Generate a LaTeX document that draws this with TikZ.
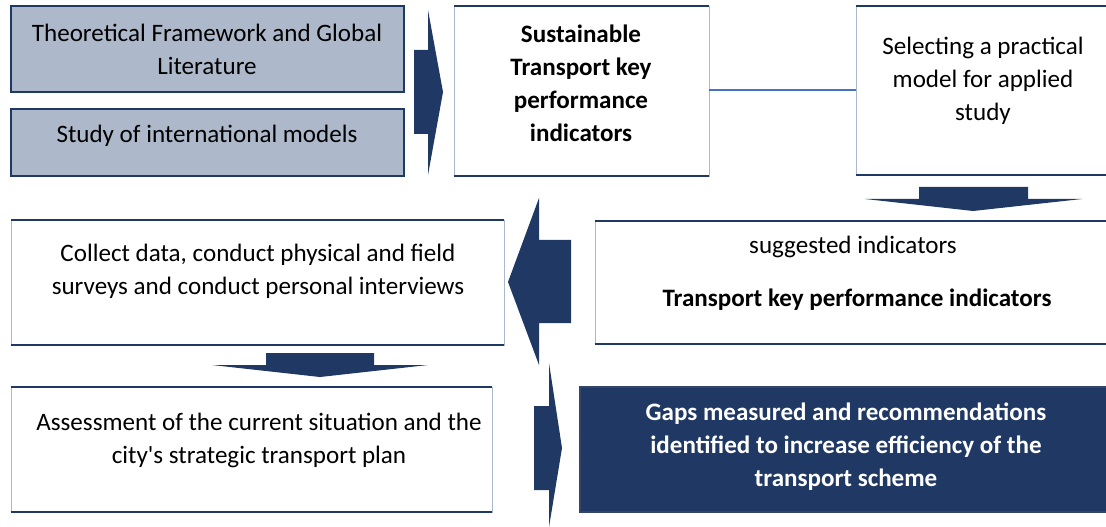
\documentclass[tikz,border=0pt]{standalone}
\usepackage{fontspec}
\setmainfont{Carlito}[Ligatures=TeXOff]
\usetikzlibrary{fit}

\definecolor{navy}{HTML}{203864}
\definecolor{slate}{HTML}{ADB9CA}
\definecolor{sideline}{HTML}{A9B8CC}
\definecolor{linkblue}{HTML}{4472C4}

\tikzset{
  frame/.style={inner sep=0pt, draw=sideline, line width=0.7pt, fill=white},
  greybox/.style={inner sep=0pt, draw=navy, line width=1.2pt, fill=slate},
  darkbox/.style={inner sep=0pt, draw=navy!80!gray, line width=0.8pt, fill=navy},
  rim/.style={draw=navy, line width=1.5pt},
  txt/.style={align=center, inner sep=0pt, text=black,
    font=\fontsize{18.8}{24.75}\selectfont},
  boldtxt/.style={txt, font=\fontsize{18.8}{24.75}\selectfont\bfseries},
  blockarrow/.style={fill=navy, draw=none},
  link/.style={draw=linkblue, line width=0.9pt}
}

\newcommand{\rims}[1]{%
  \draw[rim] (#1.north west) -- (#1.north east);
  \draw[rim] (#1.south west) -- (#1.south east);}

\begin{document}
\begin{tikzpicture}[x=0.75pt, y=-0.75pt]
  \useasboundingbox (0,0) rectangle (1106,527);
  \clip (0,0) rectangle (1106,527);
  \fill[white] (0,0) rectangle (1106,527);

  % boxes
  \node[greybox, fit={(11,6) (404,92)}] (theory) {};
  \node[greybox, fit={(11,109) (404,176)}] (models) {};
  \node[frame, fit={(454,6) (709,176)}] (kpi) {};
  \node[frame, fit={(856,6) (1114,175)}] (select) {};
  \node[frame, fit={(595,221) (1114,344)}] (suggest) {};
  \node[frame, fit={(11,220) (504,345)}] (collect) {};
  \node[frame, fit={(11,387) (492,512)}] (assess) {};
  \node[darkbox, fit={(580,387) (1114,512)}] (gaps) {};
  \rims{kpi}
  \rims{select}
  \rims{suggest}
  \rims{collect}
  \rims{assess}

  % texts
  \node[txt] (ttheory) at (207,49) {Theoretical Framework and Global\\Literature};
  \node[txt] (tmodels) at (207,136) {Study of international models};
  \node[boldtxt] (tkpi) at (581,83) {Sustainable\\Transport key\\performance\\indicators};
  \node[txt] (tselect) at (983,81) {Selecting a practical\\model for applied\\study};
  \node[txt] (tsuggest) at (853,247) {suggested indicators};
  \node[boldtxt] (ttkpi) at (857,300) {Transport key performance indicators};
  \node[txt] (tcollect) at (258,271) {Collect data, conduct physical and field\\surveys and conduct personal interviews};
  \node[txt] (tassess) at (259,440) {Assessment of the current situation and the\\city's strategic transport plan};
  \node[boldtxt, text=white] (tgaps) at (846,447) {Gaps measured and recommendations\\identified to increase efficiency of the\\transport scheme};

  % thin link between the indicator box and the model selection box
  \draw[link] (kpi.east |- 0,90) -- (select.west |- 0,90);

  % block arrows
  \path[blockarrow] (414,50) -- (428,50) -- (428,10) -- (443,92) -- (428,175) -- (428,134) -- (414,134) -- cycle;
  \path[blockarrow] (919,187) -- (1028,187) -- (1028,199) -- (1082,199) -- (973,211) -- (865,199) -- (919,199) -- cycle;
  \path[blockarrow] (571,240) -- (539,240) -- (539,198) -- (508,282) -- (539,365) -- (539,323) -- (571,323) -- cycle;
  \path[blockarrow] (266,353) -- (374,353) -- (374,365) -- (428,365) -- (320,377) -- (212,365) -- (266,365) -- cycle;
  \path[blockarrow] (534,406) -- (549,406) -- (549,363) -- (562,448) -- (549,527) -- (549,490) -- (534,490) -- cycle;
\end{tikzpicture}
\end{document}
